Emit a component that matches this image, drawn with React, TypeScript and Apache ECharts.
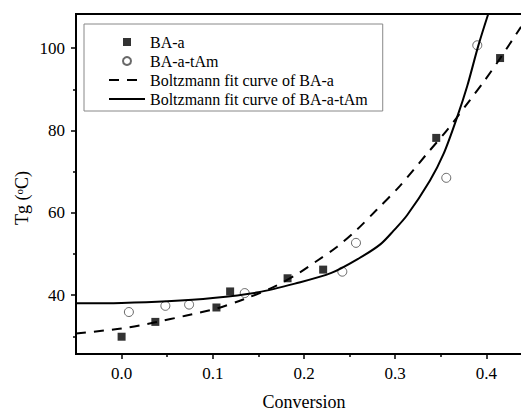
import React, { useEffect, useRef } from "react";
import * as echarts from "echarts";

// Measured glass transition temperature vs. conversion
const baA_conversion = [0.0, 0.037, 0.104, 0.119, 0.182, 0.221, 0.345, 0.415];
const baA_tg = [29.9, 33.5, 37.0, 40.9, 44.1, 46.2, 78.2, 97.6];

const baAtAm_conversion = [0.008, 0.048, 0.074, 0.135, 0.242, 0.257, 0.356, 0.39];
const baAtAm_tg = [35.9, 37.4, 37.7, 40.5, 45.7, 52.7, 68.5, 100.7];

// Boltzmann fit curves, sampled along each curve
const fitBaA_x = [-0.05, 0.0, 0.037, 0.07, 0.105, 0.134, 0.167, 0.196, 0.214, 0.236, 0.258, 0.28, 0.305, 0.335, 0.358, 0.382, 0.397, 0.415, 0.438];
const fitBaA_y = [30.7, 31.9, 33.4, 35.0, 36.8, 39.0, 42.0, 45.6, 48.3, 51.7, 55.9, 60.8, 66.5, 74.4, 80.4, 87.4, 91.8, 97.5, 105.2];

const fitBaAtAm_x = [-0.05, 0.0, 0.05, 0.1, 0.15, 0.19, 0.23, 0.26, 0.284, 0.298, 0.313, 0.338, 0.353, 0.368, 0.379, 0.391, 0.402];
const fitBaAtAm_y = [38.0, 38.1, 38.5, 39.3, 40.7, 42.8, 45.4, 48.9, 52.4, 55.6, 59.4, 67.8, 74.3, 83.3, 90.8, 100.5, 108.3];

const xMajorTicks = [0.0, 0.1, 0.2, 0.3, 0.4];
const xMinorTicks = [0.05, 0.15, 0.25, 0.35];
const yMajorTicks = [40, 60, 80, 100];
const yMinorTicks = [30, 50, 70, 90];

const seriesNames = [
  "BA-a",
  "BA-a-tAm",
  "Boltzmann fit curve of BA-a",
  "Boltzmann fit curve of BA-a-tAm",
];

const FONT = "Liberation Serif";

const zip = (xs: number[], ys: number[]) => xs.map((x, i) => [x, ys[i]]);

// Serif text styles for the axis texts, applied through rich tokens
const tickRich = { t: { fontFamily: FONT, fontSize: 17, color: "#000" } };
const nameRich = { n: { fontFamily: FONT, fontSize: 18, color: "#000" } };

export default function App() {
  const ref = useRef<HTMLDivElement>(null);

  useEffect(() => {
    if (!ref.current) return;
    const chart = echarts.init(ref.current, undefined, { renderer: "svg" });

    const xBase = {
      type: "value" as const,
      min: -0.05,
      max: 0.45,
      splitLine: { show: false },
    };
    const yBase = {
      type: "value" as const,
      min: 25.7,
      max: 108.3,
      splitLine: { show: false },
    };

    chart.setOption({
      animation: false,
      backgroundColor: "#fff",
      textStyle: { fontFamily: FONT, color: "#000" },
      grid: {
        left: 76,
        right: -11,
        top: 14,
        bottom: 58,
        containLabel: false,
        outerBoundsMode: "none",
        show: true,
        borderColor: "#000",
        borderWidth: 2,
      },
      xAxis: [
        {
          ...xBase,
          position: "bottom",
          name: "{n|Conversion}",
          nameLocation: "middle",
          nameGap: 39,
          nameTextStyle: { fontFamily: FONT, fontSize: 18, color: "#000", rich: nameRich },
          axisLine: { show: true, onZero: false, lineStyle: { color: "#000", width: 2 } },
          axisTick: {
            show: true,
            inside: false,
            length: 5,
            customValues: xMajorTicks,
            lineStyle: { color: "#000", width: 1.5 },
          },
          axisLabel: {
            customValues: xMajorTicks,
            margin: 11,
            fontFamily: FONT,
            fontSize: 17,
            color: "#000",
            rich: tickRich,
            formatter: (v: number) => `{t|${v.toFixed(1)}}`,
          },
        },
        {
          ...xBase,
          position: "bottom",
          axisLine: { show: false, onZero: false },
          axisTick: {
            show: true,
            inside: false,
            length: 3,
            customValues: xMinorTicks,
            lineStyle: { color: "#000", width: 1.5 },
          },
          axisLabel: { show: false },
        },
      ],
      yAxis: [
        {
          ...yBase,
          position: "left",
          axisLine: { show: true, onZero: false, lineStyle: { color: "#000", width: 2 } },
          axisTick: {
            show: true,
            inside: false,
            length: 5,
            customValues: yMajorTicks,
            lineStyle: { color: "#000", width: 1.5 },
          },
          axisLabel: {
            customValues: yMajorTicks,
            margin: 11,
            fontFamily: FONT,
            fontSize: 17,
            color: "#000",
            rich: tickRich,
            formatter: (v: number) => `{t|${v}}`,
          },
        },
        {
          ...yBase,
          position: "left",
          axisLine: { show: false, onZero: false },
          axisTick: {
            show: true,
            inside: false,
            length: 3,
            customValues: yMinorTicks,
            lineStyle: { color: "#000", width: 1.5 },
          },
          axisLabel: { show: false },
        },
      ],
      legend: {
        orient: "vertical",
        left: 84,
        top: 24,
        padding: [10, 15, 4, 24],
        itemWidth: 36,
        itemHeight: 8,
        itemGap: 3,
        borderColor: "#888",
        borderWidth: 1,
        backgroundColor: "#fff",
        textStyle: { fontFamily: FONT, fontSize: 16, color: "#000" },
        data: [
          { name: seriesNames[0], icon: "path://M0 0H10V10H0Z" },
          { name: seriesNames[1], icon: "circle" },
          { name: seriesNames[2] },
          { name: seriesNames[3] },
        ],
      },
      graphic: [
        {
          type: "text",
          x: 22,
          y: 198,
          rotation: Math.PI / 2,
          style: {
            text: "Tg ({sup|o}C)",
            fontFamily: FONT,
            fontSize: 18,
            fill: "#000",
            align: "center",
            verticalAlign: "middle",
            rich: {
              sup: { fontFamily: FONT, fontSize: 11, verticalAlign: "top", fill: "#000" },
            },
          },
        },
      ],
      series: [
        {
          name: seriesNames[2],
          type: "line",
          xAxisIndex: 0,
          yAxisIndex: 0,
          data: zip(fitBaA_x, fitBaA_y),
          smooth: 0.3,
          symbol: "none",
          itemStyle: { color: "transparent" },
          lineStyle: { color: "#000", width: 2, type: [10, 8] },
        },
        {
          name: seriesNames[3],
          type: "line",
          xAxisIndex: 0,
          yAxisIndex: 0,
          data: zip(fitBaAtAm_x, fitBaAtAm_y),
          smooth: 0.3,
          symbol: "none",
          itemStyle: { color: "transparent" },
          lineStyle: { color: "#000", width: 2, type: "solid" },
        },
        {
          name: seriesNames[0],
          type: "scatter",
          xAxisIndex: 0,
          yAxisIndex: 0,
          data: zip(baA_conversion, baA_tg),
          symbol: "rect",
          symbolSize: 8,
          itemStyle: { color: "#000" },
        },
        {
          name: seriesNames[1],
          type: "scatter",
          xAxisIndex: 0,
          yAxisIndex: 0,
          data: zip(baAtAm_conversion, baAtAm_tg),
          symbol: "circle",
          symbolSize: 9,
          itemStyle: { color: "rgba(255,255,255,0)", borderColor: "#444", borderWidth: 1 },
        },
      ],
    });

    return () => chart.dispose();
  }, []);

  return (
    <div
      ref={ref}
      style={{ position: "fixed", left: 0, top: 0, width: 521, height: 412, background: "#fff" }}
    />
  );
}
